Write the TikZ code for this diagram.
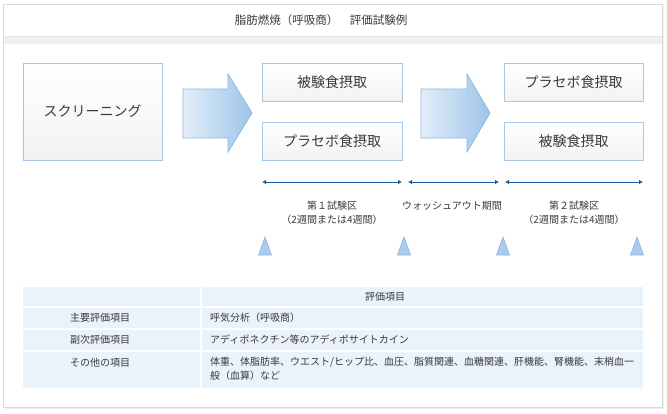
\documentclass[tikz,border=0pt]{standalone}
\usepackage{fontspec}
\setmainfont{Noto Sans CJK JP}
\usetikzlibrary{arrows.meta}
\definecolor{frameline}{HTML}{D9D9D9}
\definecolor{strip}{HTML}{EFEFEF}
\definecolor{boxline}{HTML}{A8C8EA}
\definecolor{arrowline}{HTML}{8DB8E2}
\definecolor{arrowleft}{HTML}{E4EEF9}
\definecolor{arrowright}{HTML}{9CC4EA}
\definecolor{dimline}{HTML}{1D5C9C}
\definecolor{marker}{HTML}{A9CBEC}
\definecolor{markerline}{HTML}{8DB6E0}
\definecolor{tablefill}{HTML}{EAF2FB}
\definecolor{txt}{HTML}{3A3A3A}
\begin{document}
\begin{tikzpicture}[x=1bp,y=-1bp,
  stagebox/.style={draw=boxline, line width=0.9bp, top color=white, bottom color=white!95!black, text=txt, font=\fontsize{14bp}{16bp}\selectfont, inner sep=0pt},
  bigarrow/.style={draw=arrowline, line width=0.8bp, left color=arrowleft, right color=arrowright},
  dimarrow/.style={draw=dimline, line width=1bp, {Latex[length=4bp,width=4.5bp]}-{Latex[length=4bp,width=4.5bp]}},
  smalltxt/.style={text=txt, font=\fontsize{10bp}{12bp}\selectfont, inner sep=0pt},
  cellbox/.style={fill=tablefill, draw=none},
  markertri/.style={fill=marker, draw=markerline, line width=0.6bp}
]
\useasboundingbox (0,0) rectangle (667,413);
% outer frame
\fill[black!6] (4,6) rectangle (664,409);
\draw[frameline, fill=white, line width=0.8bp] (3,4) rectangle (662,407);
\fill[strip] (3.5,36) rectangle (661.5,44);
\draw[frameline!70, line width=0.5bp] (3.5,36) -- (661.5,36);
\node[text=txt, font=\fontsize{11.5bp}{13bp}\selectfont, inner sep=0pt] (title) at (321,20) {脂肪燃焼（呼吸商）　評価試験例};
% boxes
\node[stagebox, minimum width=139bp, minimum height=97bp] (scr) at (92.5,111.5) {スクリーニング};
\node[stagebox, minimum width=140bp, minimum height=38bp] (t1a) at (332,82) {被験食摂取};
\node[stagebox, minimum width=140bp, minimum height=38bp] (t1b) at (332,141) {プラセボ食摂取};
\node[stagebox, minimum width=139bp, minimum height=38bp] (t2a) at (573.5,82) {プラセボ食摂取};
\node[stagebox, minimum width=139bp, minimum height=38bp] (t2b) at (573.5,141) {被験食摂取};
% big arrows
\path[bigarrow] (183,89) -- (228,89) -- (228,74) -- (252,113) -- (228,152) -- (228,138) -- (183,138) -- cycle;
\path[bigarrow] (421,89) -- (467,89) -- (467,74) -- (490,113) -- (467,152) -- (467,138) -- (421,138) -- cycle;
% dimension lines
\coordinate (d1a) at (262,182);
\coordinate (d1b) at (402,182);
\coordinate (d2a) at (408,182);
\coordinate (d2b) at (499,182);
\coordinate (d3a) at (505,182);
\coordinate (d3b) at (643,182);
\draw[dimarrow] (d1a) -- (d1b);
\draw[dimarrow] (d2a) -- (d2b);
\draw[dimarrow] (d3a) -- (d3b);
\node[smalltxt] (l1a) at (332,206) {第１試験区};
\node[smalltxt] (l1b) at (332,220) {（2週間または4週間）};
\node[smalltxt] (l2) at (452,206) {ウォッシュアウト期間};
\node[smalltxt] (l3a) at (574,206) {第２試験区};
\node[smalltxt] (l3b) at (574,220) {（2週間または4週間）};
% markers
\foreach \mx in {265,404,503,637} {
  \path[markertri] (\mx-6.5,255) -- (\mx,237) -- (\mx+6.5,255) -- cycle;
}
% table
\fill[cellbox] (23,287) rectangle (200,306);
\fill[cellbox] (202,287) rectangle (643,306);
\fill[cellbox] (23,308) rectangle (200,328);
\fill[cellbox] (202,308) rectangle (643,328);
\fill[cellbox] (23,330) rectangle (200,350);
\fill[cellbox] (202,330) rectangle (643,350);
\fill[cellbox] (23,352) rectangle (200,388);
\fill[cellbox] (202,352) rectangle (643,388);
\node[smalltxt] (hdr) at (385,297) {評価項目};
\node[smalltxt] (r1) at (100,318) {主要評価項目};
\node[smalltxt] (r2) at (100,340) {副次評価項目};
\node[smalltxt] (r3) at (100,363) {その他の項目};
\node[smalltxt, anchor=west] (v1) at (210,318) {呼気分析（呼吸商）};
\node[smalltxt, anchor=west] (v2) at (210,340) {アディポネクチン等のアディポサイトカイン};
\node[smalltxt, anchor=north west, align=left, font=\fontsize{10bp}{14bp}\selectfont] (v3) at (210,357) {体重、体脂肪率、ウエスト/ヒップ比、血圧、脂質関連、血糖関連、肝機能、腎機能、末梢血一\\般（血算）など};
\end{tikzpicture}
\end{document}
